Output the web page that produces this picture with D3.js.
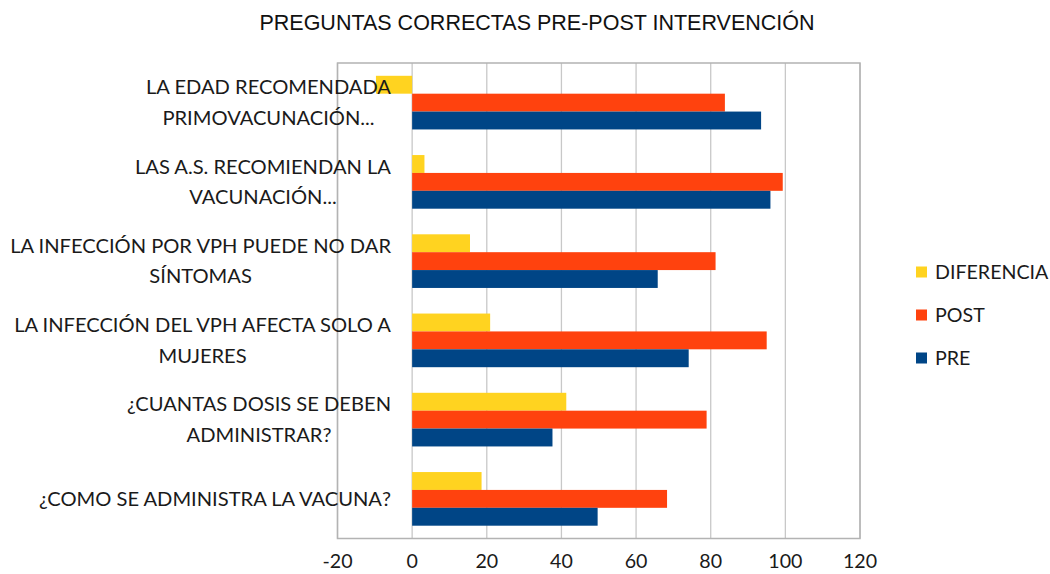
<!DOCTYPE html>
<html>
<head>
<meta charset="utf-8">
<script src="https://cdn.jsdelivr.net/npm/d3@7/dist/d3.min.js"></script>
<style>
  html, body { margin: 0; padding: 0; background: #fff; }
  svg { display: block; }
  .lbl { font-family: Lato, "Open Sans", sans-serif; fill: #1a1a1a; }
</style>
</head>
<body>
<svg id="chart" width="1050" height="574"></svg>
<script>
// Preguntas correctas pre/post intervención - barras horizontales agrupadas

const questions = [
    ["LA EDAD RECOMENDADA", "PRIMOVACUNACIÓN..."],
    ["LAS A.S. RECOMIENDAN LA", "VACUNACIÓN..."],
    ["LA INFECCIÓN POR VPH PUEDE NO DAR", "SÍNTOMAS"],
    ["LA INFECCIÓN DEL VPH AFECTA SOLO A", "MUJERES"],
    ["¿CUANTAS DOSIS SE DEBEN", "ADMINISTRAR?"],
    ["¿COMO SE ADMINISTRA LA VACUNA?"]
];
const seriesNames = ["DIFERENCIA", "POST", "PRE"];
const diferencia = [-9.7, 3.3, 15.5, 20.9, 41.3, 18.6];
const post = [83.8, 99.3, 81.3, 95.0, 78.9, 68.3];
const pre = [93.5, 96.0, 65.8, 74.1, 37.6, 49.7];
const xTicks = [-20, 0, 20, 40, 60, 80, 100, 120];
const colors = ["#ffd320", "#ff420e", "#004586"];

const svg = d3.select("#chart");
const plot = { left: 337.5, right: 860, top: 63, bottom: 538.5 };

const x = d3.scaleLinear().domain([-20, 120]).range([plot.left, plot.right]);
const y = d3.scaleBand()
    .domain(d3.range(questions.length))
    .range([plot.top, plot.bottom])
    .paddingInner(0.323)
    .paddingOuter(0.1615);
const ySub = d3.scaleBand().domain(seriesNames).range([0, y.bandwidth()]);
const color = d3.scaleOrdinal().domain(seriesNames).range(colors);

const rows = questions.map((q, i) => ({
    i,
    values: [
        { key: "DIFERENCIA", v: diferencia[i] },
        { key: "POST", v: post[i] },
        { key: "PRE", v: pre[i] }
    ]
}));

// gridlines
svg.append("g")
    .selectAll("line")
    .data(xTicks)
    .join("line")
    .attr("x1", d => x(d)).attr("x2", d => x(d))
    .attr("y1", plot.top).attr("y2", plot.bottom)
    .attr("stroke", "#c8c8c8")
    .attr("stroke-width", 1.3);

// plot frame
svg.append("rect")
    .attr("x", plot.left).attr("y", plot.top)
    .attr("width", plot.right - plot.left)
    .attr("height", plot.bottom - plot.top)
    .attr("fill", "none")
    .attr("stroke", "#b3b3b3")
    .attr("stroke-width", 1.5);

// bars
const groups = svg.append("g")
    .selectAll("g")
    .data(rows)
    .join("g")
    .attr("transform", d => `translate(0,${y(d.i)})`);

groups.selectAll("rect")
    .data(d => d.values)
    .join("rect")
    .attr("x", d => x(Math.min(0, d.v)))
    .attr("width", d => Math.abs(x(d.v) - x(0)))
    .attr("y", d => ySub(d.key))
    .attr("height", ySub.bandwidth())
    .attr("fill", d => color(d.key));

// category labels (centered lines, widest line ends near x=391)
const labelRight = 391;
const lineGap = 30.5;
const probe = svg.append("text").attr("class", "lbl").style("font-size", "20px")
    .text("LA INFECCIÓN DEL VPH AFECTA SOLO A");
const labelSize = 20 * 377 / probe.node().getComputedTextLength();
probe.remove();

const labels = svg.append("g");
questions.forEach((lines, i) => {
    const cy = y(i) + y.bandwidth() / 2;
    const t = labels.append("text")
        .attr("class", "lbl")
        .style("font-size", labelSize + "px")
        .attr("text-anchor", "middle");
    lines.forEach((ln, k) => {
        t.append("tspan")
            .attr("y", cy + (k - (lines.length - 1) / 2) * lineGap)
            .attr("dy", "0.35em")
            .text(ln);
    });
    const widths = [];
    t.selectAll("tspan").each(function () { widths.push(this.getComputedTextLength()); });
    const cx = labelRight - d3.max(widths) / 2;
    t.selectAll("tspan").attr("x", cx);
});

// x axis tick labels
svg.append("g")
    .selectAll("text")
    .data(xTicks)
    .join("text")
    .attr("class", "lbl")
    .style("font-size", (labelSize - 0.5) + "px")
    .attr("x", d => x(d))
    .attr("y", 568)
    .attr("text-anchor", "middle")
    .text(d => d);

// title
svg.append("text")
    .attr("x", 537)
    .attr("y", 30)
    .attr("text-anchor", "middle")
    .style("font-family", "'Liberation Sans', Arial, sans-serif")
    .style("font-size", "21.5px")
    .style("fill", "#111")
    .text("PREGUNTAS CORRECTAS PRE-POST INTERVENCIÓN");

// legend
const legend = svg.append("g")
    .selectAll("g")
    .data(seriesNames)
    .join("g")
    .attr("transform", (d, i) => `translate(916,${272 + i * 43})`);

legend.append("rect")
    .attr("x", 0).attr("y", -5.5)
    .attr("width", 11).attr("height", 11)
    .attr("fill", d => color(d));

legend.append("text")
    .attr("class", "lbl")
    .style("font-size", (labelSize - 0.5) + "px")
    .attr("x", 19)
    .attr("dy", "0.35em")
    .text(d => d);
</script>
</body>
</html>
